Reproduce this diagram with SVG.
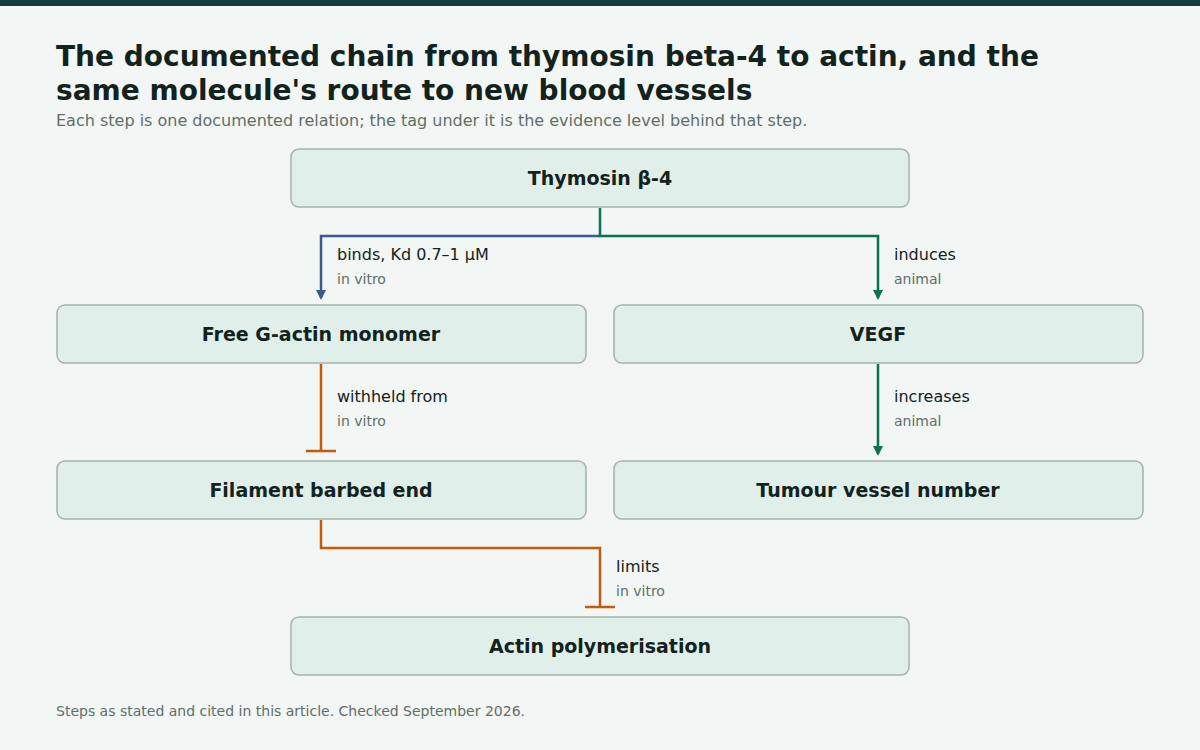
<svg xmlns="http://www.w3.org/2000/svg" width="1200" height="750" viewBox="0 0 1200 750">
<style>
.t{font-family:"DejaVu Sans",sans-serif}
.box{fill:#e1efea;stroke:#a3b3ab;stroke-width:1.5}
.lbl{font-family:"DejaVu Sans",sans-serif;font-size:19px;font-weight:bold;fill:#12221c;text-anchor:middle}
.el{font-family:"DejaVu Sans",sans-serif;font-size:16px;fill:#12221c}
.ev{font-family:"DejaVu Sans",sans-serif;font-size:14px;fill:#5f6f68}
.c{fill:none;stroke-width:2.5}
</style>
<defs>
<marker id="ab" markerWidth="10" markerHeight="10" refX="8" refY="5" orient="auto" markerUnits="userSpaceOnUse" viewBox="0 0 10 10"><path d="M0,0L10,5L0,10z" fill="#3a5a8e"/></marker>
<marker id="ag" markerWidth="10" markerHeight="10" refX="8" refY="5" orient="auto" markerUnits="userSpaceOnUse" viewBox="0 0 10 10"><path d="M0,0L10,5L0,10z" fill="#0b7152"/></marker>
</defs>
<rect width="1200" height="750" fill="#f2f6f4"/>
<rect width="1200" height="6" fill="#143c3a"/>
<text class="t" x="56" y="66" font-size="28" font-weight="bold" fill="#12221c">The documented chain from thymosin beta-4 to actin, and the</text>
<text class="t" x="56" y="100" font-size="28" font-weight="bold" fill="#12221c">same molecule's route to new blood vessels</text>
<text class="t" x="56" y="126" font-size="16" fill="#5f6f68">Each step is one documented relation; the tag under it is the evidence level behind that step.</text>
<g id="connectors">
<path class="c" stroke="#3a5a8e" d="M600,236H321V298" marker-end="url(#ab)"/>
<path class="c" stroke="#0b7152" d="M600,208V236H878V298" marker-end="url(#ag)"/>
<path class="c" stroke="#0b7152" d="M878,364V454" marker-end="url(#ag)"/>
<path class="c" stroke="#c45c0e" d="M321,364V451M306,451H336"/>
<path class="c" stroke="#c45c0e" d="M321,520V548H600V607M585,607H615"/>
<text class="el" x="337" y="260">binds, Kd 0.7–1 μM</text><text class="ev" x="337" y="284">in vitro</text>
<text class="el" x="894" y="260">induces</text><text class="ev" x="894" y="284">animal</text>
<text class="el" x="337" y="402">withheld from</text><text class="ev" x="337" y="426">in vitro</text>
<text class="el" x="894" y="402">increases</text><text class="ev" x="894" y="426">animal</text>
<text class="el" x="616" y="572">limits</text><text class="ev" x="616" y="596">in vitro</text>
</g>
<g id="n1"><rect class="box" x="291" y="149" width="618" height="58" rx="8"/><text class="lbl" x="600" y="185">Thymosin β-4</text></g>
<g id="n2"><rect class="box" x="57" y="305" width="529" height="58" rx="8"/><text class="lbl" x="321" y="341">Free G-actin monomer</text></g>
<g id="n3"><rect class="box" x="614" y="305" width="529" height="58" rx="8"/><text class="lbl" x="878" y="341">VEGF</text></g>
<g id="n4"><rect class="box" x="57" y="461" width="529" height="58" rx="8"/><text class="lbl" x="321" y="497">Filament barbed end</text></g>
<g id="n5"><rect class="box" x="614" y="461" width="529" height="58" rx="8"/><text class="lbl" x="878" y="497">Tumour vessel number</text></g>
<g id="n6"><rect class="box" x="291" y="617" width="618" height="58" rx="8"/><text class="lbl" x="600" y="653">Actin polymerisation</text></g>
<text class="t" x="56" y="716" font-size="14" fill="#5f6f68">Steps as stated and cited in this article. Checked September 2026.</text>
</svg>
